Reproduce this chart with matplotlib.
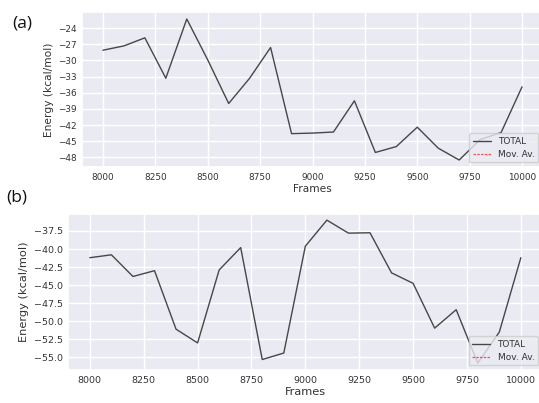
import matplotlib
matplotlib.use("Agg")
import matplotlib.pyplot as plt
import seaborn as sns

sns.set_theme(style="darkgrid")
plt.rcParams['font.family'] = ['DejaVu Sans']

frames = list(range(8000, 10001, 100))

energy_a = [-28.1, -27.3, -25.8, -33.3, -22.3, -29.9, -38.0, -33.3, -27.6,
            -43.6, -43.5, -43.3, -37.5, -47.1, -46.0, -42.4, -46.3, -48.5,
            -44.7, -43.4, -34.9]

energy_b = [-41.2, -40.8, -43.8, -43.0, -51.1, -53.0, -42.9, -39.8, -55.3,
            -54.4, -39.6, -36.0, -37.8, -37.75, -43.3, -44.75, -50.95, -48.4,
            -55.8, -51.5, -41.2]

yticks_a = [-24, -27, -30, -33, -36, -39, -42, -45, -48]
yticks_b = [-37.5, -40.0, -42.5, -45.0, -47.5, -50.0, -52.5, -55.0]
xticks = [8000, 8250, 8500, 8750, 9000, 9250, 9500, 9750, 10000]

W, H = 539, 403
fig = plt.figure(figsize=(W / 100, H / 100), dpi=100)

ax_a = fig.add_axes([82 / W, 1 - 167 / H, (543 - 82) / W, 155 / H])
ax_b = fig.add_axes([68.3 / W, 1 - 370 / H, (542.4 - 68.3) / W, 156 / H])

panels = [
    (ax_a, energy_a, yticks_a, "{:.0f}", 6.4, 7.7, "(a)", (22, 24)),
    (ax_b, energy_b, yticks_b, "{:.1f}", 6.8, 8.2, "(b)", (17, 197)),
]

for ax, energy, yt, fmt, tfs, lfs, tag, tag_xy in panels:
    ax.plot(frames, energy, color="#474747", linewidth=1.0, label="TOTAL")
    ax.plot([], [], color="#ff5050", linestyle=(0, (2, 1)), linewidth=0.9,
            label="Mov. Av.")
    ax.set_xticks(xticks)
    ax.set_xticklabels([str(x) for x in xticks], fontsize=tfs, color="#333333")
    ax.set_yticks(yt)
    ax.set_yticklabels([fmt.format(v).replace("-", "\u2212") for v in yt],
                       fontsize=tfs, color="#333333")
    ax.tick_params(axis="both", length=0, pad=4)
    ax.set_xlabel("Frames", fontsize=lfs, color="#333333", labelpad=2)
    ax.set_ylabel("Energy (kcal/mol)", fontsize=lfs, color="#333333",
                  labelpad=3)
    ax.set_xlim(7900, 10100)
    leg = ax.legend(loc="lower right", fontsize=6.5, framealpha=0.8,
                    handlelength=2.0, borderpad=0.4, labelspacing=0.45)
    for t in leg.get_texts():
        t.set_color("#333333")
    fig.text(tag_xy[0] / W, 1 - tag_xy[1] / H, tag, fontsize=12.5,
             ha="center", va="center", family="Open Sans", color="#111111")

ax_a.set_ylim(-49.8, -21.0)
ax_b.set_ylim(-56.75, -35.15)

fig.savefig("out.png", dpi=100)
